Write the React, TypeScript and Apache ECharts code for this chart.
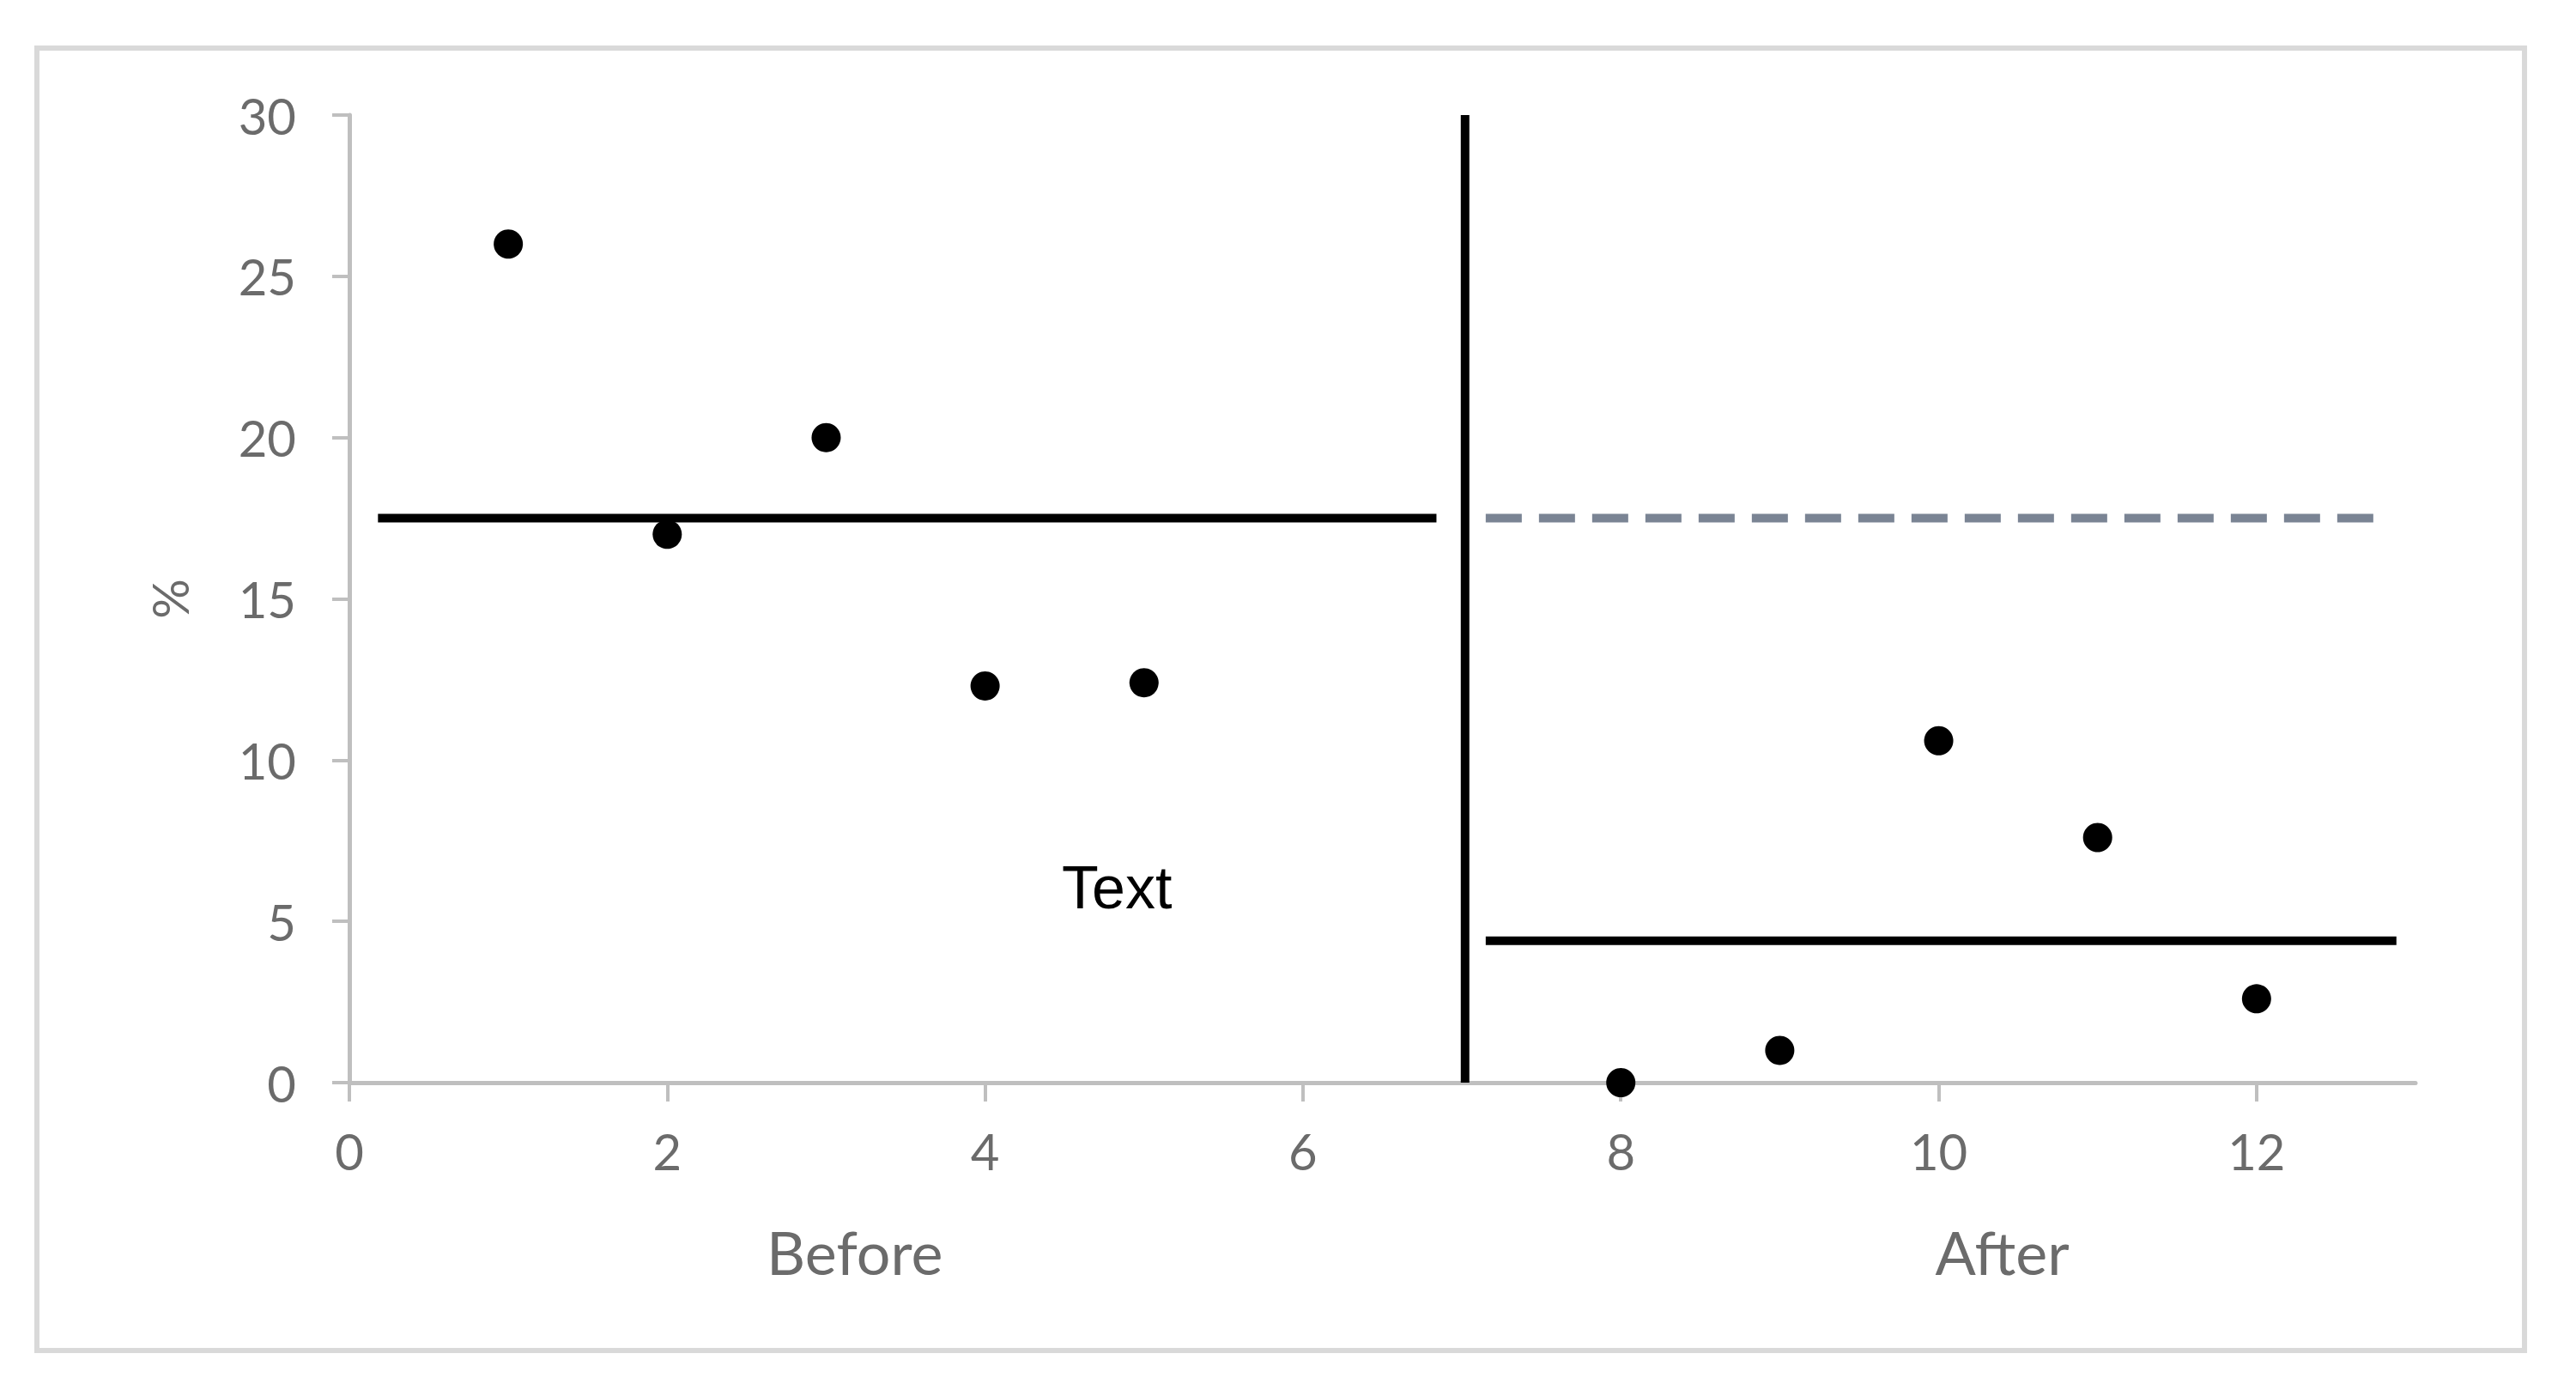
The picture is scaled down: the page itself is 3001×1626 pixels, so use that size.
import React, { useEffect, useRef } from "react";
import * as echarts from "echarts";

const beforeX = [1, 2, 3, 4, 5];
const beforeY = [26, 17, 20, 12.3, 12.4];
const afterX = [8, 9, 10, 11, 12];
const afterY = [0, 1, 10.6, 7.6, 2.6];
const beforeMean = 17.5;
const afterMean = 4.4;
const beforeLineX = [0.18, 6.84];
const dashedLineX = [7.15, 12.8];
const afterLineX = [7.15, 12.88];
const dividerX = 7.02;
const xTicks = [0, 2, 4, 6, 8, 10, 12];
const yTicks = [0, 5, 10, 15, 20, 25, 30];
const annotation = { text: "Text", x: 4.83, y: 6.04 };
const groupLabels = [
  { text: "Before", x: 3.18 },
  { text: "After", x: 10.4 },
];

export default function App() {
  const ref = useRef<HTMLDivElement>(null);
  useEffect(() => {
    if (!ref.current) return;
    const chart = echarts.init(ref.current, undefined, { renderer: "svg" });
    const labelFont = "Lato, 'Open Sans', sans-serif";
    const grey = "#6b6b6b";
    const option: any = {
      animation: false,
      backgroundColor: "#ffffff",
      grid: { left: 407, top: 134, right: 187, bottom: 365, containLabel: false },
      xAxis: {
        type: "value",
        min: 0,
        max: 13,
        interval: 2,
        splitLine: { show: false },
        axisLine: { show: true, onZero: false, lineStyle: { color: "#bfbfbf", width: 5 } },
        axisTick: { show: true, length: 22, inside: false, customValues: xTicks, lineStyle: { color: "#bfbfbf", width: 4 } },
        axisLabel: { customValues: xTicks, margin: 50, color: grey, fontSize: 58, fontFamily: labelFont },
      },
      yAxis: {
        type: "value",
        min: 0,
        max: 30,
        interval: 5,
        name: "%",
        nameLocation: "middle",
        nameGap: 181,
        nameRotate: 90,
        nameTextStyle: { color: grey, fontSize: 58, fontFamily: labelFont },
        splitLine: { show: false },
        axisLine: { show: true, lineStyle: { color: "#bfbfbf", width: 5 } },
        axisTick: { show: true, length: 20, customValues: yTicks, lineStyle: { color: "#bfbfbf", width: 4 } },
        axisLabel: { customValues: yTicks, margin: 62, color: grey, fontSize: 58, fontFamily: labelFont },
      },
      series: [
        {
          type: "line",
          data: [[dividerX, 0], [dividerX, 30]],
          symbol: "none",
          lineStyle: { color: "#000", width: 10 },
          z: 3,
        },
        {
          type: "line",
          data: beforeLineX.map((x) => [x, beforeMean]),
          symbol: "none",
          lineStyle: { color: "#000", width: 10 },
          z: 3,
        },
        {
          type: "line",
          data: dashedLineX.map((x) => [x, beforeMean]),
          symbol: "none",
          lineStyle: { color: "#7a8494", width: 10, type: [42, 20] },
          z: 3,
        },
        {
          type: "line",
          data: afterLineX.map((x) => [x, afterMean]),
          symbol: "none",
          lineStyle: { color: "#000", width: 10 },
          z: 3,
        },
        {
          type: "scatter",
          data: beforeX.map((x, i) => [x, beforeY[i]]),
          symbol: "circle",
          symbolSize: 34,
          itemStyle: { color: "#000", opacity: 1 },
          clip: false,
          z: 4,
        },
        {
          type: "scatter",
          data: afterX.map((x, i) => [x, afterY[i]]),
          symbol: "circle",
          symbolSize: 34,
          itemStyle: { color: "#000", opacity: 1 },
          clip: false,
          z: 4,
        },
      ],
    };
    chart.setOption(option);

    const annPt = chart.convertToPixel({ gridIndex: 0 }, [annotation.x, annotation.y]) as number[];
    const graphics: any[] = [
      {
        type: "rect",
        shape: { x: 43, y: 56, width: 2898, height: 1517 },
        style: { fill: "none", stroke: "#d9d9d9", lineWidth: 6 },
        silent: true,
        z: 0,
      },
      {
        type: "text",
        x: annPt[0],
        y: annPt[1],
        style: {
          text: annotation.text,
          fill: "#000",
          font: "70px 'Liberation Sans', Arial, sans-serif",
          align: "center",
          verticalAlign: "middle",
        },
        z: 10,
      },
    ];
    groupLabels.forEach((g) => {
      const p = chart.convertToPixel({ gridIndex: 0 }, [g.x, 0]) as number[];
      graphics.push({
        type: "text",
        x: p[0],
        y: 1458,
        style: {
          text: g.text,
          fill: grey,
          font: "70px Lato, 'Open Sans', sans-serif",
          align: "center",
          verticalAlign: "middle",
        },
        z: 10,
      });
    });
    chart.setOption({ graphic: graphics });

    return () => chart.dispose();
  }, []);
  return (
    <div
      ref={ref}
      style={{ position: "absolute", left: 0, top: 0, width: 3001, height: 1626 }}
    />
  );
}
